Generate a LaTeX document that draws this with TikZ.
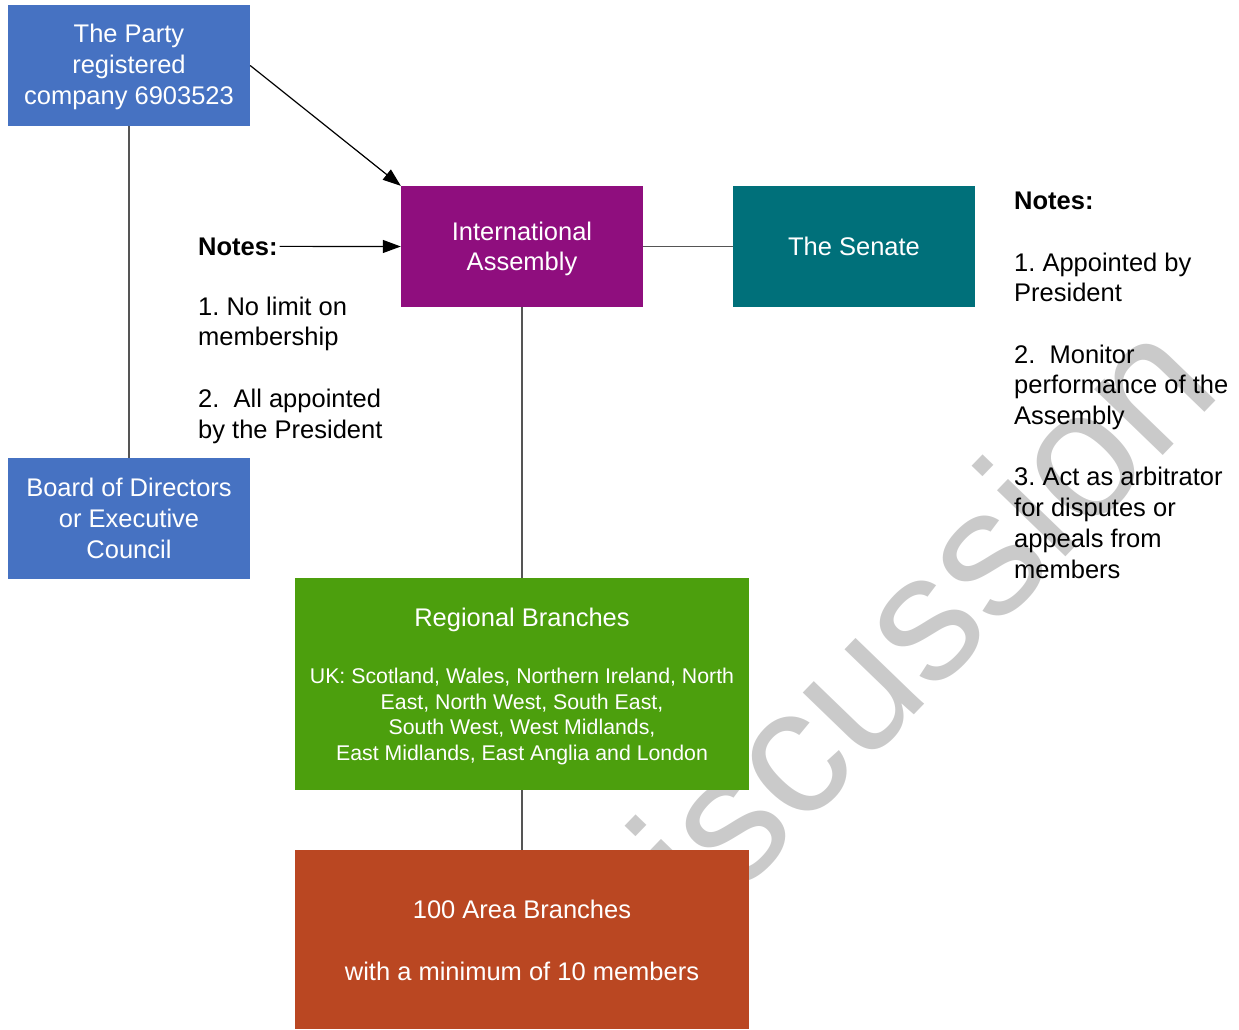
\documentclass[tikz,border=0pt]{standalone}
\usepackage{fontspec}
\setmainfont{Liberation Sans}
\usetikzlibrary{arrows.meta}
\definecolor{cblue}{HTML}{4672C2}
\definecolor{cpurple}{HTML}{8F0E7E}
\definecolor{cteal}{HTML}{00707A}
\definecolor{cgreen}{HTML}{4C9F0D}
\definecolor{corange}{HTML}{BA4722}
\definecolor{wm}{HTML}{CACACA}
\definecolor{lnk}{HTML}{555555}
\newcommand\mysz{\fontsize{25.5}{30.7}\selectfont}
\newcommand\mysmall{\fontsize{21.3}{25.4}\selectfont}
\frenchspacing
\begin{document}
\begin{tikzpicture}[x=1pt,y=-1pt,
  box/.style={draw=none, inner sep=0pt, text=white, align=center, font=\mysz},
  note/.style={inner sep=0pt, align=left, font=\mysz, anchor=base west},
  link/.style={draw=lnk, line width=1.2pt},
  arr/.style={draw=black, line width=1.2pt, -{Triangle[length=18pt,width=13pt]}}]
\useasboundingbox (0,0) rectangle (1239,1029);
% watermark
\node[text=wm, inner sep=0pt, font=\fontsize{180}{180}\selectfont, rotate=46] (wmark) at (876,661) {Discussion};
% boxes
\node[box, fill=cblue, minimum width=242pt, minimum height=121pt] (party) at (129,65.5) {};
\node[box] (partytext) at (129,67) {The Party\\registered\\company 6903523};
\node[box, fill=cblue, minimum width=242pt, minimum height=121pt] (board) at (129,518.5) {Board of Directors\\or Executive\\Council};
\node[box, fill=cpurple, minimum width=242pt, minimum height=121pt] (ia) at (522,246.5) {};
\node[box] (iatext) at (522,249) {International\\Assembly};
\node[box, fill=cteal, minimum width=242pt, minimum height=121pt] (senate) at (854,246.5) {The Senate};
\node[box, fill=cgreen, minimum width=454pt, minimum height=212pt] (regional) at (522,684) {};
\node[box] (regtitle) at (522,619.5) {Regional Branches};
\node[box, font=\mysmall] (reglist) at (522,716.5) {UK: Scotland, Wales, Northern Ireland, North\\East, North West, South East,\\South West, West Midlands,\\East Midlands, East Anglia and London};
\node[box, fill=corange, minimum width=454pt, minimum height=179pt] (area) at (522,939.5) {};
\node[box] (areatext) at (522,940.5) {100 Area Branches\\[30.7pt]with a minimum of 10 members};
% notes
\node[note] (notesL) at (198,255) {\textbf{Notes:}};
\node[note] (notesLbody) at (198,438) {1. No limit on\\membership\\[30.7pt]2.\ \ All appointed\\by the President};
\node[note] (notesR) at (1014,578) {\textbf{Notes:}\\[30.7pt]1. Appointed by\\President\\[30.7pt]2.\ \ Monitor\\performance of the\\Assembly\\[30.7pt]3. Act as arbitrator\\for disputes or\\appeals from\\members};
% connectors
\draw[link] (party.south) -- (board.north);
\draw[arr] (party.east) -- (ia.north west);
\draw[arr] ([xshift=2pt]notesL.east) -- (ia.west);
\draw[link] (ia.east) -- (senate.west);
\draw[link] (ia.south) -- (regional.north);
\draw[link] (regional.south) -- (area.north);
\end{tikzpicture}
\end{document}
